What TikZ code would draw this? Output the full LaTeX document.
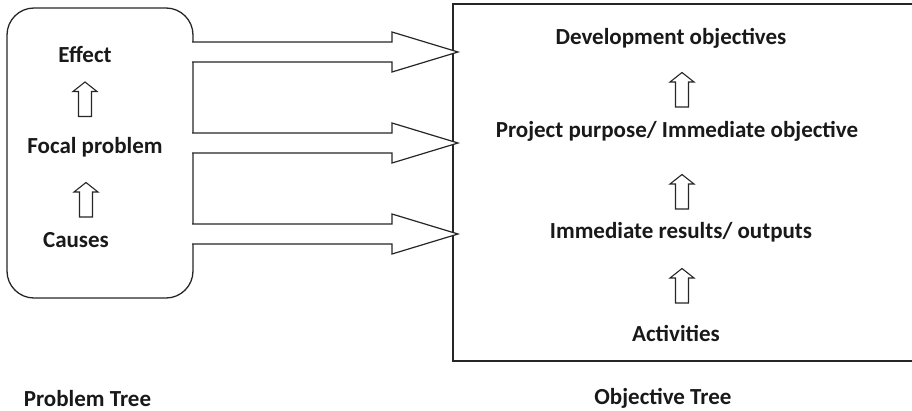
\documentclass[tikz,border=0pt]{standalone}
\usepackage{fontspec}
\setmainfont{Carlito}
\usetikzlibrary{calc}
\tikzset{
  lbl/.style={font=\fontsize{23}{27}\selectfont\bfseries, inner sep=0pt, text=black!90},
  frame/.style={draw=black!85, line width=1.3pt},
  blockarrow/.style={draw=black!85, line width=1.2pt, fill=white, line join=miter},
  smallarrow/.style={draw=black!85, line width=1.1pt, fill=white, line join=miter}
}
\newcommand\uparrowat[1]{%
  \draw[smallarrow] ($(#1)+(-6.5,17)$) -- ($(#1)+(6.5,17)$) -- ($(#1)+(6.5,-8)$) -- ($(#1)+(12,-8)$)
    -- ($(#1)+(0,-17.5)$) -- ($(#1)+(-12,-8)$) -- ($(#1)+(-6.5,-8)$) -- cycle;}
\newcommand\blockarrowfrom[2]{% start coordinate, tip coordinate
  \draw[blockarrow] ($(#1)+(0,-10)$) -- ($(#1)+(200,-10)$) -- ($(#1)+(200,-20)$) -- (#2)
    -- ($(#1)+(200,20)$) -- ($(#1)+(200,10)$) -- ($(#1)+(0,10)$);}
\begin{document}
\begin{tikzpicture}[x=1pt,y=-1pt]
\useasboundingbox (0,0) rectangle (912,410);
\begin{scope}
\clip (0,0) rectangle (912,410);
\draw[frame] (453,4) rectangle (930,361);
\end{scope}
\draw[frame, rounded corners=27pt] (7,8) rectangle (193,298);

% block arrows
\coordinate (s1) at (192,52); \coordinate (t1) at (458,52);
\coordinate (s2) at (192,143); \coordinate (t2) at (458,143);
\coordinate (s3) at (192,234); \coordinate (t3) at (458,234);
\blockarrowfrom{s1}{t1}
\blockarrowfrom{s2}{t2}
\blockarrowfrom{s3}{t3}

% left texts
\node[lbl] (effect) at (85,55) {Effect};
\node[lbl] (focal) at (95,147) {Focal problem};
\node[lbl] (causes) at (76,240) {Causes};
\coordinate (ua1) at (85,99.5); \uparrowat{ua1}
\coordinate (ua2) at (86,200); \uparrowat{ua2}

% right texts
\node[lbl] (dev) at (671,38) {Development objectives};
\node[lbl] (proj) at (677,131) {Project purpose/ Immediate objective};
\node[lbl] (res) at (681,232) {Immediate results/ outputs};
\node[lbl] (act) at (676,333) {Activities};
\coordinate (ub1) at (682,90); \uparrowat{ub1}
\coordinate (ub2) at (682,192); \uparrowat{ub2}
\coordinate (ub3) at (682,286); \uparrowat{ub3}

% captions
\node[lbl, anchor=base] (ptree) at (87.5,406) {Problem Tree};
\node[lbl, anchor=base] (otree) at (663,404) {Objective Tree};
\end{tikzpicture}
\end{document}
